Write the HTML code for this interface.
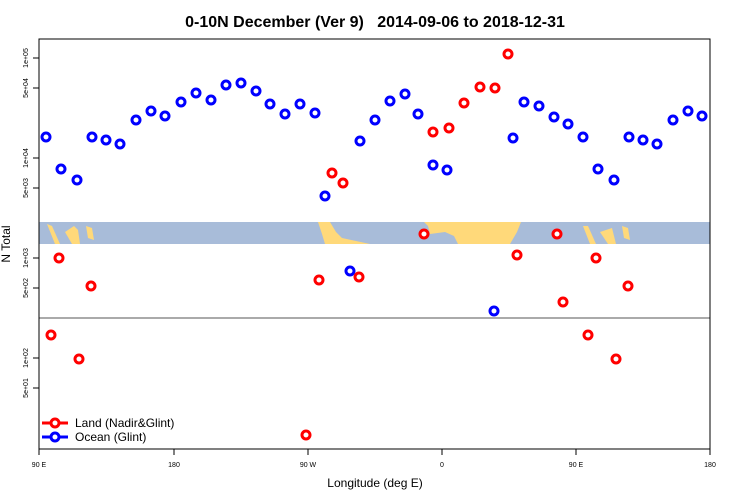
<!DOCTYPE html>
<html><head><meta charset="utf-8"><style>body{margin:0;background:#fff}svg{display:block}</style></head><body>
<svg width="750" height="500" xmlns="http://www.w3.org/2000/svg" font-family="Liberation Sans, sans-serif">
<text x="375" y="27" text-anchor="middle" font-size="16" font-weight="bold">0-10N December (Ver 9)&#160;&#160;&#160;2014-09-06 to 2018-12-31</text>
<rect x="39" y="222" width="671" height="22" fill="#a8bcd9"/>
<g fill="#ffd97a">
<path d="M47,224 L55,244 L60,244 L52,226Z"/><path d="M65,232 L72,244 L80,244 L78,230 L74,226Z"/><path d="M86,226 L92,228 L94,240 L88,238Z"/>
<path d="M318,222 L330,222 L336,232 L342,238 L370,244 L325,244 L322,234Z"/>
<path d="M424,222 L521,222 L517,232 L510,244 L458,244 L454,236 L445,232 L430,234 L428,226Z"/>
<path d="M583,226 L590,244 L596,244 L588,226Z"/><path d="M600,232 L608,244 L616,244 L612,228Z"/><path d="M622,226 L628,228 L630,240 L624,238Z"/>
</g>
<line x1="39" y1="318" x2="710" y2="318" stroke="#555" stroke-width="1"/>
<rect x="39" y="39" width="671" height="410" fill="none" stroke="#000" stroke-width="1"/>
<g stroke="#000">
<line x1="39" y1="449" x2="39" y2="455"/><line x1="174" y1="449" x2="174" y2="455"/><line x1="308" y1="449" x2="308" y2="455"/><line x1="442" y1="449" x2="442" y2="455"/><line x1="576" y1="449" x2="576" y2="455"/><line x1="710" y1="449" x2="710" y2="455"/>
</g>
<g font-size="7" text-anchor="middle">
<text x="39" y="467">90 E</text><text x="174" y="467">180</text><text x="308" y="467">90 W</text><text x="442" y="467">0</text><text x="576" y="467">90 E</text><text x="710" y="467">180</text>
</g>
<g stroke="#000"><line x1="33" y1="58" x2="39" y2="58"/><line x1="33" y1="88" x2="39" y2="88"/><line x1="33" y1="158" x2="39" y2="158"/><line x1="33" y1="188" x2="39" y2="188"/><line x1="33" y1="258" x2="39" y2="258"/><line x1="33" y1="288" x2="39" y2="288"/><line x1="33" y1="358" x2="39" y2="358"/><line x1="33" y1="388" x2="39" y2="388"/></g>
<g font-size="7" text-anchor="middle">
<text transform="translate(28,58) rotate(-90)">1e+05</text><text transform="translate(28,88) rotate(-90)">5e+04</text><text transform="translate(28,158) rotate(-90)">1e+04</text><text transform="translate(28,188) rotate(-90)">5e+03</text><text transform="translate(28,258) rotate(-90)">1e+03</text><text transform="translate(28,288) rotate(-90)">5e+02</text><text transform="translate(28,358) rotate(-90)">1e+02</text><text transform="translate(28,388) rotate(-90)">5e+01</text>
</g>
<text transform="translate(10,244) rotate(-90)" font-size="12" text-anchor="middle">N Total</text>
<text x="375" y="487" font-size="12" text-anchor="middle">Longitude (deg E)</text>
<g fill="#fff" stroke="#0000ff" stroke-width="3">
<circle cx="46" cy="137" r="4"/><circle cx="61" cy="169" r="4"/><circle cx="77" cy="180" r="4"/><circle cx="92" cy="137" r="4"/><circle cx="106" cy="140" r="4"/><circle cx="120" cy="144" r="4"/><circle cx="136" cy="120" r="4"/><circle cx="151" cy="111" r="4"/><circle cx="165" cy="116" r="4"/><circle cx="181" cy="102" r="4"/><circle cx="196" cy="93" r="4"/><circle cx="211" cy="100" r="4"/><circle cx="226" cy="85" r="4"/><circle cx="241" cy="83" r="4"/><circle cx="256" cy="91" r="4"/><circle cx="270" cy="104" r="4"/><circle cx="285" cy="114" r="4"/><circle cx="300" cy="104" r="4"/><circle cx="315" cy="113" r="4"/><circle cx="325" cy="196" r="4"/><circle cx="350" cy="271" r="4"/><circle cx="360" cy="141" r="4"/><circle cx="375" cy="120" r="4"/><circle cx="390" cy="101" r="4"/><circle cx="405" cy="94" r="4"/><circle cx="418" cy="114" r="4"/><circle cx="433" cy="165" r="4"/><circle cx="447" cy="170" r="4"/><circle cx="494" cy="311" r="4"/><circle cx="513" cy="138" r="4"/><circle cx="524" cy="102" r="4"/><circle cx="539" cy="106" r="4"/><circle cx="554" cy="117" r="4"/><circle cx="568" cy="124" r="4"/><circle cx="583" cy="137" r="4"/><circle cx="598" cy="169" r="4"/><circle cx="614" cy="180" r="4"/><circle cx="629" cy="137" r="4"/><circle cx="643" cy="140" r="4"/><circle cx="657" cy="144" r="4"/><circle cx="673" cy="120" r="4"/><circle cx="688" cy="111" r="4"/><circle cx="702" cy="116" r="4"/>
</g>
<g fill="#fff" stroke="#ff0000" stroke-width="3">
<circle cx="51" cy="335" r="4"/><circle cx="59" cy="258" r="4"/><circle cx="79" cy="359" r="4"/><circle cx="91" cy="286" r="4"/><circle cx="306" cy="435" r="4"/><circle cx="319" cy="280" r="4"/><circle cx="332" cy="173" r="4"/><circle cx="343" cy="183" r="4"/><circle cx="359" cy="277" r="4"/><circle cx="424" cy="234" r="4"/><circle cx="433" cy="132" r="4"/><circle cx="449" cy="128" r="4"/><circle cx="464" cy="103" r="4"/><circle cx="480" cy="87" r="4"/><circle cx="495" cy="88" r="4"/><circle cx="508" cy="54" r="4"/><circle cx="517" cy="255" r="4"/><circle cx="557" cy="234" r="4"/><circle cx="563" cy="302" r="4"/><circle cx="588" cy="335" r="4"/><circle cx="596" cy="258" r="4"/><circle cx="616" cy="359" r="4"/><circle cx="628" cy="286" r="4"/>
</g>
<g stroke-width="3" fill="none">
<line x1="42" y1="423" x2="68" y2="423" stroke="#ff0000"/><circle cx="55" cy="423" r="4" stroke="#ff0000" fill="#fff"/>
<line x1="42" y1="437" x2="68" y2="437" stroke="#0000ff"/><circle cx="55" cy="437" r="4" stroke="#0000ff" fill="#fff"/>
</g>
<text x="75" y="427" font-size="12">Land (Nadir&amp;Glint)</text>
<text x="75" y="441" font-size="12">Ocean (Glint)</text>
</svg>
</body></html>
